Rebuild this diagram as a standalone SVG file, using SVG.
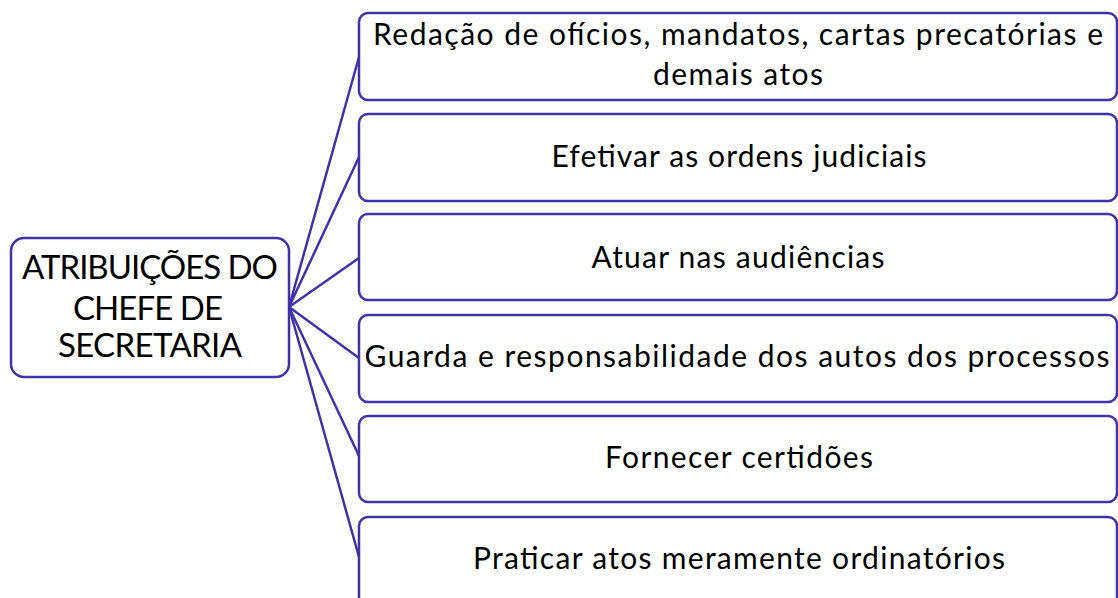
<svg xmlns="http://www.w3.org/2000/svg" width="1118" height="598" viewBox="0 0 1118 598">
<style>
.box{fill:#ffffff;stroke:#3f33a6;stroke-width:2.5}
.conn line{stroke:#3f33a6;stroke-width:2.5;stroke-linecap:round}
.t{font-family:Lato,"Noto Sans","Liberation Sans",sans-serif;font-size:30px;fill:#000000;text-anchor:middle}
.c{font-family:Lato,"Noto Sans","Liberation Sans",sans-serif;font-size:33px;fill:#000000;text-anchor:middle}
</style>
<rect width="1118" height="598" fill="#ffffff"/>
<g id="connectors" class="conn">
<line x1="289" y1="307" x2="359" y2="57"/>
<line x1="289" y1="307" x2="359" y2="157"/>
<line x1="289" y1="307" x2="359" y2="258"/>
<line x1="289" y1="307" x2="359" y2="358"/>
<line x1="289" y1="307" x2="359" y2="456"/>
<line x1="289" y1="307" x2="359" y2="557"/>
</g>
<g id="root">
<rect class="box" x="11" y="238" width="278" height="139" rx="13"/>
<text class="c" x="150" y="279" textLength="256" lengthAdjust="spacing">ATRIBUIÇÕES DO</text>
<text class="c" x="148" y="320" textLength="150" lengthAdjust="spacing">CHEFE DE</text>
<text class="c" x="150" y="357" textLength="184" lengthAdjust="spacing">SECRETARIA</text>
</g>
<g id="n1">
<rect class="box" x="359" y="13" width="758" height="87" rx="9"/>
<text class="t" x="738" y="45" textLength="730" lengthAdjust="spacing">Redação de ofícios, mandatos, cartas precatórias e</text>
<text class="t" x="738" y="85" textLength="170" lengthAdjust="spacing">demais atos</text>
</g>
<g id="n2">
<rect class="box" x="359" y="114" width="758" height="87" rx="9"/>
<text class="t" x="739" y="167" textLength="375" lengthAdjust="spacing">Efetivar as ordens judiciais</text>
</g>
<g id="n3">
<rect class="box" x="359" y="214" width="758" height="86" rx="9"/>
<text class="t" x="738" y="268" textLength="293" lengthAdjust="spacing">Atuar nas audiências</text>
</g>
<g id="n4">
<rect class="box" x="359" y="315" width="758" height="87" rx="9"/>
<text class="t" x="737" y="367" textLength="745" lengthAdjust="spacing">Guarda e responsabilidade dos autos dos processos</text>
</g>
<g id="n5">
<rect class="box" x="359" y="416" width="758" height="86" rx="9"/>
<text class="t" x="739" y="468" textLength="268" lengthAdjust="spacing">Fornecer certidões</text>
</g>
<g id="n6">
<rect class="box" x="359" y="517" width="758" height="90" rx="9"/>
<text class="t" x="739" y="569" textLength="532" lengthAdjust="spacing">Praticar atos meramente ordinatórios</text>
</g>
</svg>
